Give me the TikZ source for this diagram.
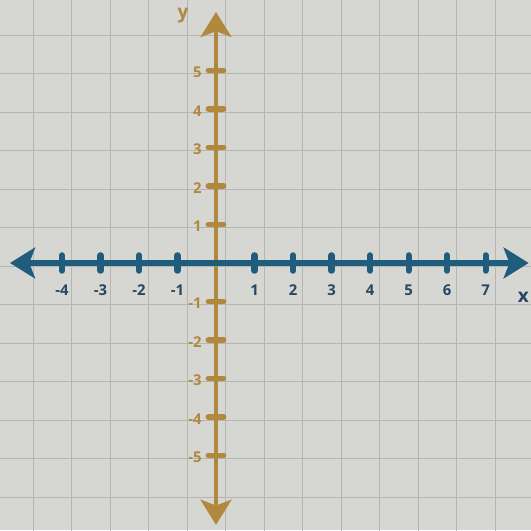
\documentclass[tikz,border=0pt]{standalone}
\usepackage{fontspec}
\setmainfont{Open Sans}
\usetikzlibrary{arrows.meta}
\definecolor{paper}{RGB}{214,214,210}
\definecolor{gridline}{RGB}{180,182,180}
\definecolor{xblue}{RGB}{32,92,124}
\definecolor{ygold}{RGB}{176,136,62}
\definecolor{xlabel}{RGB}{40,70,100}
\begin{document}
\begin{tikzpicture}[
    xaxis/.style={xblue, line width=4pt, {Stealth[length=0.65cm,width=0.8cm,inset=0.15cm]}-{Stealth[length=0.65cm,width=0.8cm,inset=0.15cm]}},
    yaxis/.style={ygold, line width=3.4pt, {Stealth[length=0.65cm,width=0.8cm,inset=0.15cm]}-{Stealth[length=0.65cm,width=0.8cm,inset=0.15cm]}},
    xtick/.style={xblue, line width=4.5pt, line cap=round},
    ytick/.style={ygold, line width=4pt, line cap=round},
    xnum/.style={xlabel, font=\fontsize{11}{13}\selectfont\bfseries},
    ynum/.style={ygold, font=\fontsize{11}{13}\selectfont\bfseries, anchor=east}
]

    % Paper and the frame of the picture
    \clip (-5.61,-6.94) rectangle (8.18,6.83);
    \fill[paper] (-5.61,-6.94) rectangle (8.18,6.83);

    % Grid of the graph paper
    \foreach \gx in {-5,...,7}
        \draw[gridline, line width=0.5pt] (\gx+0.25,-7) -- (\gx+0.25,7);
    \foreach \gy in {-6,...,6}
        \draw[gridline, line width=0.5pt] (-6,\gy-0.08) -- (9,\gy-0.08);

    % Ends of the two axes
    \coordinate (L) at (-5.35,0);    % Left end of x axis
    \coordinate (R) at (8.12,0);     % Right end of x axis
    \coordinate (T) at (0,6.52);     % Top end of y axis
    \coordinate (B) at (0,-6.8);     % Bottom end of y axis

    % Draw the y axis
    \draw[yaxis] (B) -- (T);

    % Ticks and numbers on the y axis
    \foreach \n in {-5,...,-1,1,2,...,5} {
        \draw[ytick] (-0.2,\n) -- (0.2,\n);
        \node[ynum] (y\n) at (-0.25,\n-0.05) {\n};
    }

    % Draw the x axis
    \draw[xaxis] (L) -- (R);

    % Ticks and numbers on the x axis
    \foreach \n in {-4,...,-1,1,2,...,7} {
        \draw[xtick] (\n,-0.2) -- (\n,0.2);
        \node[xnum] (x\n) at (\n,-0.7) {\n};
    }

    % Label the axes
    \node[ygold, font=\fontsize{14}{16}\selectfont\bfseries] (ylab) at (-0.86,6.42) {y};
    \node[xlabel, font=\fontsize{14}{16}\selectfont\bfseries] (xlab) at (7.98,-0.9) {x};

\end{tikzpicture}
\end{document}
